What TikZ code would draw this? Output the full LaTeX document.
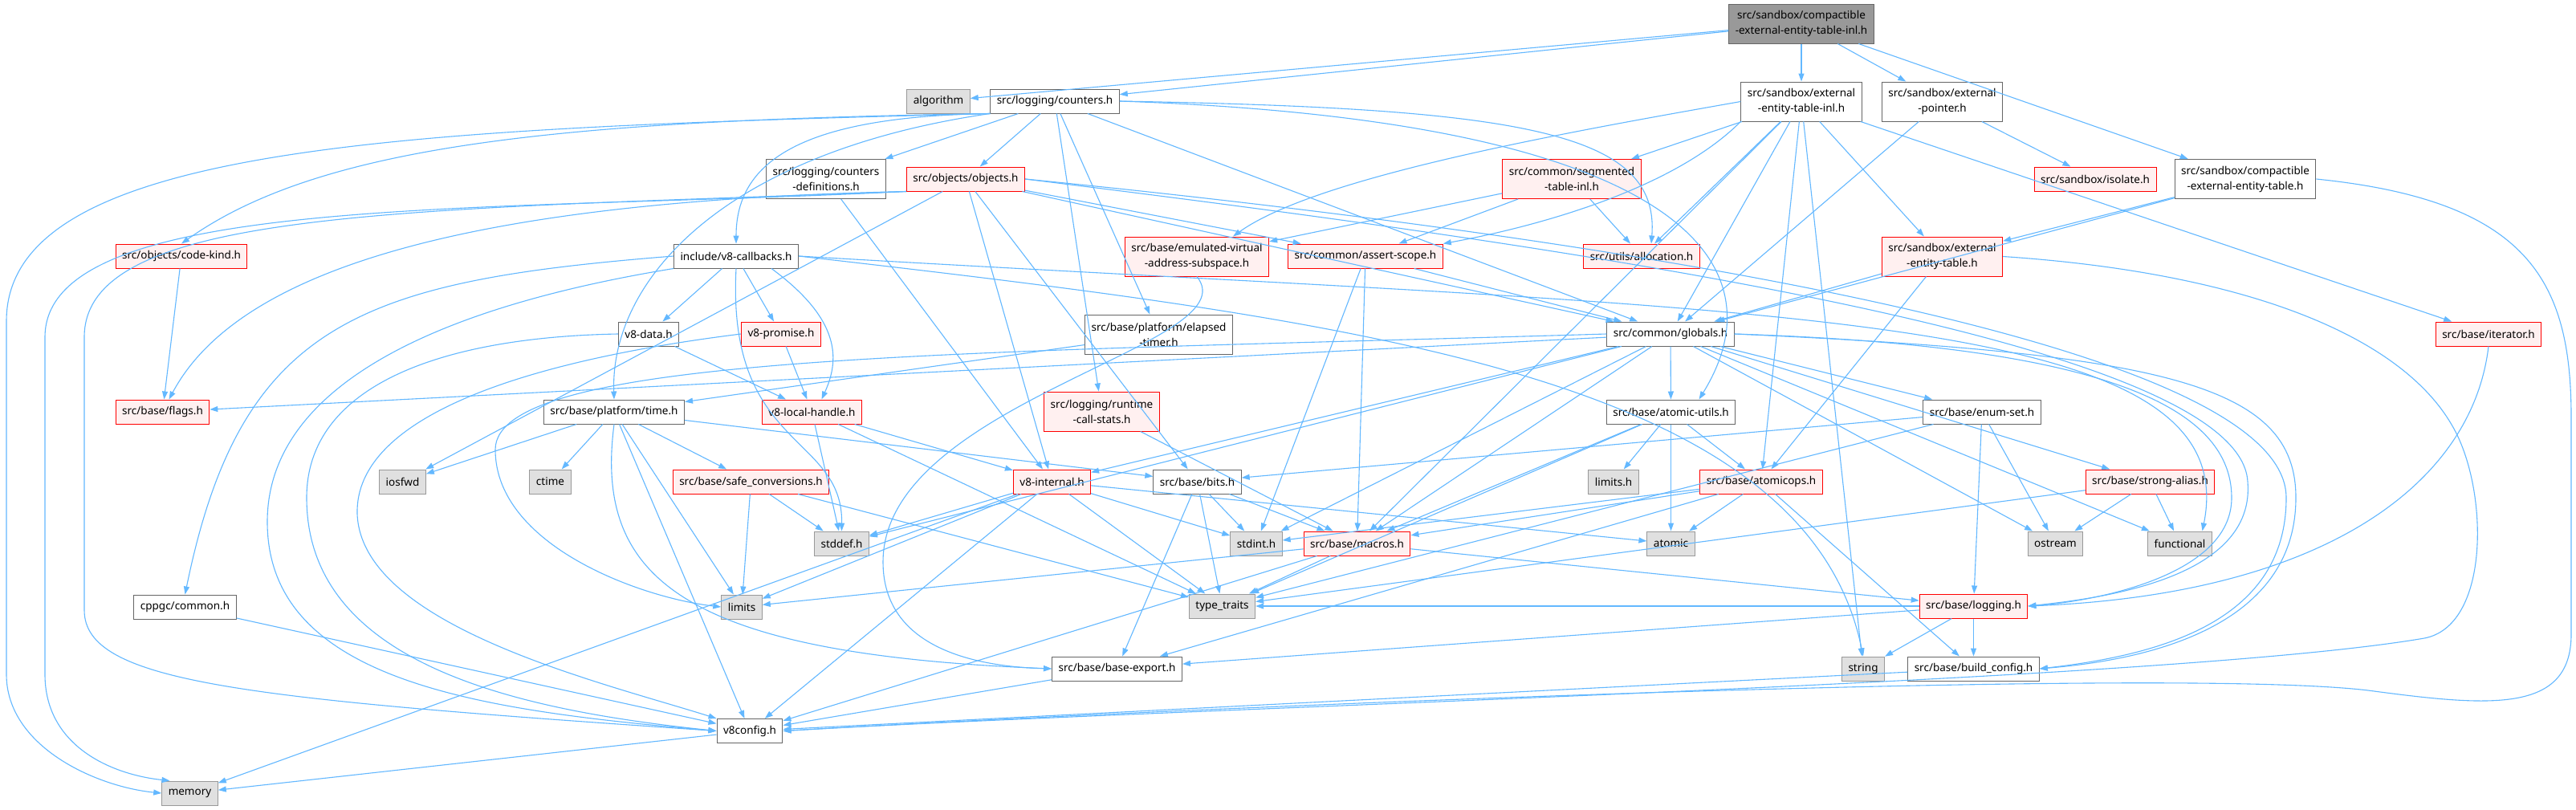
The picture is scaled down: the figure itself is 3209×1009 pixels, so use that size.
\documentclass[tikz,border=0pt]{standalone}
\usepackage{fontspec}
\setmainfont{Noto Sans}
\usetikzlibrary{arrows.meta}
\definecolor{EdgeBlue}{rgb}{0.388,0.722,1.0}
\definecolor{Black60}{rgb}{0.400,0.400,0.400}
\definecolor{Black40}{rgb}{0.600,0.600,0.600}
\definecolor{Black12}{rgb}{0.878,0.878,0.878}
\definecolor{FileRed}{rgb}{1.0,0.0,0.0}
\definecolor{FileRedFill}{rgb}{1.0,0.941,0.941}

\tikzset{
  hfile/.style={draw=Black60, fill=white, line width=1pt, align=center,
    inner xsep=8pt, inner ysep=2pt, minimum height=30pt,
    font=\fontsize{13.5}{19}\selectfont},
  hred/.style={hfile, draw=FileRed, fill=FileRedFill},
  hsys/.style={hfile, draw=Black40, fill=Black12},
  hroot/.style={hfile, draw=Black60, fill=Black40},
  twoline/.style={minimum height=49pt},
  dep/.style={EdgeBlue, line width=1.1pt, -{Triangle[length=10pt,width=7pt]}},
}

\begin{document}
\begin{tikzpicture}[x=1pt, y=-1pt]

% ============================================================
% Canvas: 3209 x 1009, y grows downwards
% ============================================================
\fill[white] (0,0) rectangle (3209,1009);
\useasboundingbox (0,0) rectangle (3209,1009);

% ============================================================
% Row 0 / 1: root file and its direct includes
% ============================================================
\node[hroot, twoline] (root) at (2244, 29.5) {src/sandbox/compactible\\-external-entity-table-inl.h};
\node[hsys] (alg) at (1169, 126) {algorithm};
\node[hfile] (cnt) at (1314, 126) {src/logging/counters.h};
\node[hfile, twoline] (eeti) at (2244, 126.5) {src/sandbox/external\\-entity-table-inl.h};
\node[hfile, twoline] (extp) at (2419.5, 126.5) {src/sandbox/external\\-pointer.h};

% ============================================================
% Row 2
% ============================================================
\node[hfile, twoline] (cdef) at (1029, 223) {src/logging/counters\\-definitions.h};
\node[hred] (obj) at (1203, 223) {src/objects/objects.h};
\node[hred, twoline] (seg) at (1958, 223) {src/common/segmented\\-table-inl.h};
\node[hred] (iso) at (2610, 223) {src/sandbox/isolate.h};
\node[hfile, twoline] (ceet) at (2797, 223) {src/sandbox/compactible\\-external-entity-table.h};

% ============================================================
% Row 3
% ============================================================
\node[hred] (ckind) at (226, 319) {src/objects/code-kind.h};
\node[hfile] (cb) at (917, 319) {include/v8-callbacks.h};
\node[hred, twoline] (evas) at (1491, 319.5) {src/base/emulated-virtual\\-address-subspace.h};
\node[hred] (asc) at (1701, 319) {src/common/assert-scope.h};
\node[hred] (alloc) at (2045, 319) {src/utils/allocation.h};
\node[hred, twoline] (eet) at (2419.5, 319.5) {src/sandbox/external\\-entity-table.h};

% ============================================================
% Row 4
% ============================================================
\node[hfile] (vdata) at (808, 416) {v8-data.h};
\node[hred] (prom) at (973, 416) {v8-promise.h};
\node[hfile, twoline] (etim) at (1443.5, 416.5) {src/base/platform/elapsed\\-timer.h};
\node[hfile] (glob) at (2081, 416) {src/common/globals.h};
\node[hred] (iter) at (3100, 416) {src/base/iterator.h};

% ============================================================
% Row 5
% ============================================================
\node[hred] (flags) at (202.5, 513) {src/base/flags.h};
\node[hfile] (time) at (765, 513) {src/base/platform/time.h};
\node[hred] (lh) at (1011.5, 513) {v8-local-handle.h};
\node[hred, twoline] (rcs) at (1372.5, 512.5) {src/logging/runtime\\-call-stats.h};
\node[hfile] (au) at (2081.5, 513) {src/base/atomic-utils.h};
\node[hfile] (es) at (2469, 513) {src/base/enum-set.h};

% ============================================================
% Row 6
% ============================================================
\node[hsys] (iosfwd) at (501.5, 600) {iosfwd};
\node[hsys] (ctime) at (685.5, 600) {ctime};
\node[hred] (safe) at (935.5, 600) {src/base/safe\_conversions.h};
\node[hred] (vi) at (1310.5, 600) {v8-internal.h};
\node[hfile] (bits) at (1491.5, 600) {src/base/bits.h};
\node[hsys] (limitsh) at (2010, 600) {limits.h};
\node[hred] (aops) at (2194, 600) {src/base/atomicops.h};
\node[hred] (sa) at (2678.5, 600) {src/base/strong-alias.h};

% ============================================================
% Row 7
% ============================================================
\node[hsys] (stddef) at (1048.5, 677) {stddef.h};
\node[hsys] (stdint) at (1565, 677) {stdint.h};
\node[hred] (macros) at (1690.5, 677) {src/base/macros.h};
\node[hsys] (atomic) at (2081.5, 677) {atomic};
\node[hsys] (ostream) at (2560.5, 677) {ostream};
\node[hsys] (functional) at (2715.5, 677) {functional};

% ============================================================
% Row 8 / 9 / 10 / 11
% ============================================================
\node[hfile] (cppgc) at (230.5, 756) {cppgc/common.h};
\node[hsys] (limits) at (924, 756) {limits};
\node[hsys] (tt) at (1522.5, 755) {type\_traits};
\node[hred] (log) at (2458.5, 755) {src/base/logging.h};
\node[hfile] (bexp) at (1391.5, 833) {src/base/base-export.h};
\node[hsys] (string) at (2321, 833) {string};
\node[hfile] (bcfg) at (2458.5, 833) {src/base/build\_config.h};
\node[hfile] (v8c) at (934, 910.5) {v8config.h};
\node[hsys] (memory) at (236.5, 988) {memory};

% ============================================================
% Straight includes
% ============================================================
\foreach \a/\b in {root/alg, root/cnt, root/eeti, root/extp, root/ceet,
  cnt/cdef, cnt/obj, cnt/etim, cnt/rcs, cnt/glob,
  eeti/seg, eeti/alloc, eeti/eet, eeti/iter, eeti/glob,
  eeti/aops, eeti/string, eeti/macros,
  extp/iso, extp/glob, ceet/eet, ceet/glob,
  seg/evas, seg/asc, seg/alloc,
  obj/asc, obj/vi, obj/bits, obj/glob, obj/iosfwd,
  ckind/flags, cdef/vi, cb/vdata, cb/prom,
  asc/glob, asc/stdint, asc/macros,
  eet/glob, eet/aops, vdata/lh, prom/lh, etim/time,
  glob/flags, glob/vi, glob/au, glob/es, glob/stddef, glob/stdint, glob/macros,
  glob/sa, glob/ostream, glob/functional,
  time/iosfwd, time/ctime, time/safe, time/bits, time/limits, time/v8c,
  lh/stddef, lh/vi, lh/tt, rcs/macros,
  au/limitsh, au/aops, au/atomic, au/macros, au/tt,
  es/bits, es/log, es/ostream, es/tt,
  safe/limits, safe/stddef, safe/tt,
  vi/stddef, vi/stdint, vi/atomic, vi/tt, vi/limits, vi/v8c, vi/memory,
  bits/stdint, bits/macros, bits/tt, bits/bexp,
  aops/stdint, aops/macros, aops/atomic, aops/bexp, aops/bcfg,
  sa/ostream, sa/functional, sa/tt,
  macros/limits, macros/tt, macros/log, macros/v8c,
  log/string, log/bcfg, log/bexp, log/tt,
  bexp/v8c, bcfg/v8c, cppgc/v8c, v8c/memory}{%
  \draw[dep] (\a) -- (\b);
}

% ============================================================
% Long curved includes
% ============================================================
% counters.h, round the left edge
\draw[dep] (cnt.south west) .. controls (500,160) and (8,180) .. (8,400) -- (8,840) .. controls (8,930) and (120,980) .. (memory.west);
\draw[dep] (cnt.south west) .. controls (700,150) and (400,180) .. (ckind.north);
\draw[dep] (cnt.south west) .. controls (1000,145) and (917,200) .. (cb.north);
\draw[dep] (cnt.south west) .. controls (900,190) and (760,350) .. (time.north);
\draw[dep] (cnt.east) .. controls (1900,135) and (2068,165) .. ([xshift=12pt]alloc.north);
\draw[dep] (cnt.east) .. controls (2100,150) and (2220,330) .. ([xshift=35pt]au.north);

% external-entity-table-inl.h, over and under the segmented table
\draw[dep] (eeti.west) .. controls (1950,165) and (1640,220) .. ([xshift=45pt]evas.north);
\draw[dep] (eeti.south west) .. controls (2080,240) and (1900,285) .. (asc.north east);

% objects.h
\draw[dep] (obj.south west) .. controls (600,265) and (56,240) .. (56,420) -- (56,840) .. controls (56,930) and (140,965) .. ([xshift=-25pt]memory.north);
\draw[dep] (obj.south west) .. controls (500,262) and (105,260) .. (105,420) -- (105,760) .. controls (105,850) and (300,870) .. (v8c.west);
\draw[dep] (obj.south west) .. controls (600,250) and (300,330) .. ([xshift=8pt]flags.north);
\draw[dep] (obj.east) .. controls (1900,300) and (2790,420) .. (2800,600) .. controls (2810,720) and (2620,745) .. (log.east);
\draw[dep] (obj.east) .. controls (1950,290) and (2848,420) .. (2848,620) .. controls (2848,770) and (2700,815) .. (bcfg.east);

% v8-callbacks.h and friends, down to v8config.h
\draw[dep] (cb.west) .. controls (450,350) and (300,400) .. (cppgc.north);
\draw[dep] ([xshift=44pt]cb.south) .. controls (1050,400) and (1045,450) .. ([xshift=12pt]lh.north);
\draw[dep] (cb.south) .. controls (905,560) and (1050,540) .. (stddef.north);
\draw[dep] (cb.south west) .. controls (500,390) and (333,500) .. (333,650) .. controls (333,850) and (600,885) .. (v8c.west);
\draw[dep] (vdata.west) .. controls (550,420) and (382,480) .. (382,620) .. controls (382,830) and (650,885) .. (v8c.west);
\draw[dep] (prom.west) .. controls (650,450) and (442,520) .. (445,640) .. controls (450,780) and (750,850) .. (v8c.north west);
\draw[dep] (cb.east) .. controls (2200,390) and (2800,380) .. ([xshift=28pt]functional.north);
\draw[dep] (cb.east) .. controls (1700,400) and (2250,470) .. (string.north);

% platform/time.h down to base-export.h
\draw[dep] (time.south) .. controls (740,720) and (850,815) .. (bexp.west);

% globals.h
\draw[dep] (glob.east) .. controls (2600,430) and (2780,500) .. (2780,620) .. controls (2780,720) and (2600,750) .. (log.east);
\draw[dep] (glob.east) .. controls (2700,440) and (2860,480) .. (2860,620) .. controls (2860,770) and (2700,820) .. (bcfg.east);
\draw[dep] (glob.west) .. controls (1200,440) and (617,440) .. (617,560) .. controls (617,680) and (800,745) .. (limits.west);

% emulated subspace
\draw[dep] (evas.south) .. controls (1560,430) and (1100,500) .. (1100,700) .. controls (1100,800) and (1200,830) .. (bexp.west);

% iterator.h
\draw[dep] (iter.south) .. controls (3080,600) and (2900,740) .. (log.east);

% sandbox tables, round the right edge
\draw[dep] (eet.east) .. controls (2800,340) and (3000,420) .. (3060,540) .. controls (3100,620) and (3100,780) .. (3020,795) .. controls (2700,850) and (1500,880) .. (v8c.east);
\draw[dep] (ceet.east) .. controls (3150,250) and (3203,350) .. (3203,520) -- (3203,790) .. controls (3203,890) and (3100,880) .. (2950,860) .. controls (2700,830) and (1500,880) .. (v8c.east);

\end{tikzpicture}
\end{document}
